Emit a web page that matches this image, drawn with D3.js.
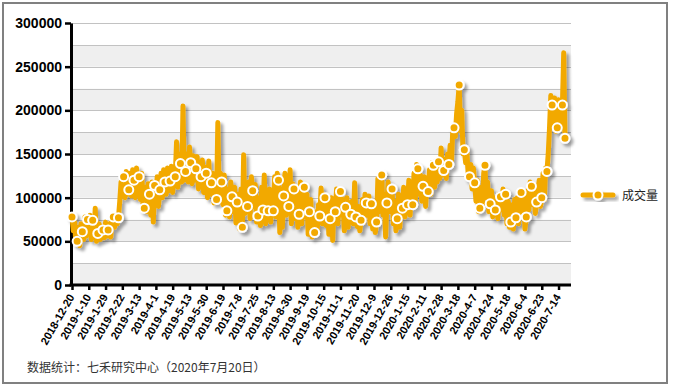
<!DOCTYPE html>
<html>
<head>
<meta charset="utf-8">
<script src="https://cdn.jsdelivr.net/npm/d3@7"></script>
<style>
  body { margin: 0; background: #fff; }
  svg { display: block; }
</style>
</head>
<body>
<div id="chart"></div>
<script>
// tick labels, one every 13 trading days
const tickLabels = [
  "2018-12-20", "2019-1-10", "2019-1-29", "2019-2-22", "2019-3-13", "2019-4-1",
  "2019-4-19", "2019-5-13", "2019-5-30", "2019-6-19", "2019-7-8", "2019-7-25",
  "2019-8-13", "2019-8-30", "2019-9-19", "2019-10-15", "2019-11-1", "2019-11-20",
  "2019-12-9", "2019-12-26", "2020-1-15", "2020-2-11", "2020-2-28", "2020-3-18",
  "2020-4-7", "2020-4-24", "2020-5-18", "2020-6-4", "2020-6-23", "2020-7-14"
];
const tickStep = 13;

// daily volume, in thousands
const volumeK = [
  78, 62, 72, 48,   50, 66, 45, 70,   61, 52, 78, 56,   75, 60, 80, 52,
  74, 55, 88, 50,   59, 70, 52, 66,   63, 54, 72, 56,   63, 70, 55, 74,
  78, 66, 80, 70,   77, 96, 118, 104, 124, 100, 130, 104, 109, 128, 102, 132,
  120, 100, 134, 110, 124, 98, 128, 92, 88, 112, 84, 116, 104, 80, 118, 72,
  114, 96, 124, 90, 109, 128, 100, 132, 118, 104, 134, 108, 119, 136, 106, 130,
  124, 164, 112, 150, 139, 118, 205, 120, 130, 150, 118, 158, 140, 116, 148, 120,
  133, 147, 110, 140, 124, 143, 106, 135, 128, 100, 142, 104, 117, 128, 94, 120,
  98, 186, 104, 128, 118, 92, 126, 80, 85, 110, 78, 118, 101, 84, 112, 71,
  95, 104, 64, 110, 66, 149, 82, 112, 90, 118, 76, 124, 108, 90, 115, 72,
  79, 100, 68, 112, 86, 126, 70, 100, 85, 110, 72, 104, 85, 124, 78, 128,
  120, 60, 110, 66, 102, 128, 80, 112, 90, 132, 70, 116, 110, 76, 108, 66,
  81, 118, 70, 112, 112, 78, 104, 58, 84, 98, 55, 70, 60, 84, 62, 92,
  79, 111, 70, 104, 100, 68, 96, 58, 76, 100, 51, 92, 84, 110, 70, 100,
  107, 80, 98, 62, 89, 100, 66, 94, 81, 96, 70, 117, 78, 67, 90, 62,
  74, 98, 72, 104, 94, 80, 102, 70, 93, 64, 92, 60, 72, 122, 84, 112,
  126, 80, 104, 55, 94, 118, 84, 112, 110, 70, 96, 62, 76, 104, 66, 96,
  88, 112, 78, 106, 92, 120, 80, 112, 92, 128, 96, 138, 133, 104, 126, 96,
  113, 124, 90, 118, 107, 132, 104, 140, 137, 112, 142, 118, 141, 122, 157, 126,
  131, 144, 122, 150, 138, 160, 140, 176, 180, 170, 196, 210, 229, 176, 200, 150,
  155, 140, 152, 126, 124, 138, 110, 134, 117, 96, 120, 84, 88, 112, 90, 128,
  137, 100, 118, 84, 93, 108, 78, 100, 86, 96, 76, 104, 101, 86, 110, 80,
  104, 70, 96, 66, 72, 92, 64, 98, 77, 100, 70, 108, 106, 84, 102, 64,
  78, 108, 86, 118, 113, 92, 110, 82, 95, 108, 120, 90, 100, 128, 98, 134,
  130, 150, 180, 217, 206, 182, 214, 176, 180, 212, 178, 196, 206, 266, 168
];
const volume = volumeK.map(v => v * 1000);

const seriesName = "成交量";
const sourceNote = "数据统计：七禾研究中心（2020年7月20日）";
const yTicks = [0, 50000, 100000, 150000, 200000, 250000, 300000];

const orange = "#f2a900";
const markerEvery = 4;

const width = 673, height = 387;
const margin = { top: 23, left: 71 };
const plotW = 500, plotH = 262;

const svg = d3.select("#chart").append("svg")
  .attr("width", width)
  .attr("height", height);

// soft grey drop shadow used by the series and legend
const defs = svg.append("defs");
const shadow = defs.append("filter").attr("id", "shadow")
  .attr("x", "-10%").attr("y", "-10%").attr("width", "130%").attr("height", "130%");
shadow.append("feDropShadow")
  .attr("dx", 3).attr("dy", 3).attr("stdDeviation", 1.4)
  .attr("flood-color", "#000").attr("flood-opacity", 0.35);

// outer frame
svg.append("rect")
  .attr("x", 3).attr("y", 3).attr("width", 664).attr("height", 380)
  .attr("fill", "#fff").attr("stroke", "#808080").attr("stroke-width", 2);

const plot = svg.append("g").attr("transform", `translate(${margin.left},${margin.top})`);

const x = d3.scaleLinear().domain([0, volume.length - 1]).range([1, 494]);
const y = d3.scaleLinear().domain([0, 300000]).range([plotH, 0]);

// alternating bands
const bandStarts = d3.range(0, 300000, 25000);
plot.selectAll("rect.band").data(bandStarts).join("rect")
  .attr("class", "band")
  .attr("x", 0).attr("width", plotW)
  .attr("y", d => y(d + 25000))
  .attr("height", d => y(d) - y(d + 25000))
  .attr("fill", (d, i) => i % 2 === 0 ? "#efefef" : "#fff");

plot.selectAll("line.grid").data(bandStarts.map(d => d + 25000)).join("line")
  .attr("class", "grid")
  .attr("x1", 0).attr("x2", plotW)
  .attr("y1", d => Math.round(y(d)) + 0.5).attr("y2", d => Math.round(y(d)) + 0.5)
  .attr("stroke", "#c2c2c2").attr("stroke-width", 1);

// axes
const yAxis = plot.append("g")
  .call(d3.axisLeft(y).tickValues(yTicks).tickSize(6).tickSizeOuter(0).tickPadding(3).tickFormat(d3.format("d")));
yAxis.select(".domain").attr("stroke-width", 3);
yAxis.selectAll(".tick line").attr("stroke-width", 2.5);
yAxis.selectAll("text")
  .attr("font-family", "'Liberation Sans', Arial, sans-serif")
  .attr("font-size", 14).attr("font-weight", "bold").attr("fill", "#000");

const xTickValues = tickLabels.map((d, i) => i * tickStep);
const xAxis = plot.append("g")
  .attr("transform", `translate(0,${plotH})`)
  .call(d3.axisBottom(x).tickValues(xTickValues).tickSize(5).tickSizeOuter(0)
    .tickFormat((d, i) => tickLabels[i]));
xAxis.select(".domain").remove();
xAxis.append("line")
  .attr("x1", -1.5).attr("x2", plotW)
  .attr("stroke", "#000").attr("stroke-width", 3);
xAxis.selectAll(".tick line").attr("stroke-width", 2.5);
xAxis.selectAll("text")
  .attr("x", 0).attr("y", 0).attr("dy", "0.35em")
  .attr("transform", "translate(-1,10) rotate(-60)")
  .style("text-anchor", "end")
  .attr("font-family", "'Liberation Sans', Arial, sans-serif")
  .attr("font-size", 11).attr("font-weight", "bold").attr("fill", "#000");

// series (drawn over the axes, as in the original)
const series = plot.append("g").attr("filter", "url(#shadow)");
const line = d3.line().x((d, i) => x(i)).y(d => y(d));
series.append("path")
  .datum(volume)
  .attr("d", line)
  .attr("fill", "none")
  .attr("stroke", orange)
  .attr("stroke-width", 5)
  .attr("stroke-linejoin", "round")
  .attr("stroke-linecap", "round");

const markers = volume
  .map((v, i) => ({ i, v }))
  .filter(d => d.i % markerEvery === 0 || d.i === volume.length - 1);
series.selectAll("circle").data(markers).join("circle")
  .attr("cx", d => x(d.i))
  .attr("cy", d => y(d.v))
  .attr("r", 4.5)
  .attr("fill", orange)
  .attr("stroke", "#fff")
  .attr("stroke-width", 2);

// legend
const legend = svg.append("g").attr("transform", "translate(583,195)");
const legendSym = legend.append("g").attr("filter", "url(#shadow)");
legendSym.append("line")
  .attr("x1", 0).attr("x2", 30)
  .attr("stroke", orange).attr("stroke-width", 5).attr("stroke-linecap", "round");
legendSym.append("circle")
  .attr("cx", 15).attr("r", 4.5)
  .attr("fill", orange).attr("stroke", "#fff").attr("stroke-width", 2);
legend.append("text")
  .attr("x", 39).attr("y", 5)
  .attr("font-family", "'Noto Sans CJK SC', sans-serif")
  .attr("font-size", 12).attr("fill", "#222")
  .text(seriesName);

// source note
svg.append("text")
  .attr("x", 27).attr("y", 372)
  .attr("font-family", "'Noto Sans CJK SC', sans-serif")
  .attr("font-size", 12).attr("fill", "#333")
  .text(sourceNote);
</script>
</body>
</html>
